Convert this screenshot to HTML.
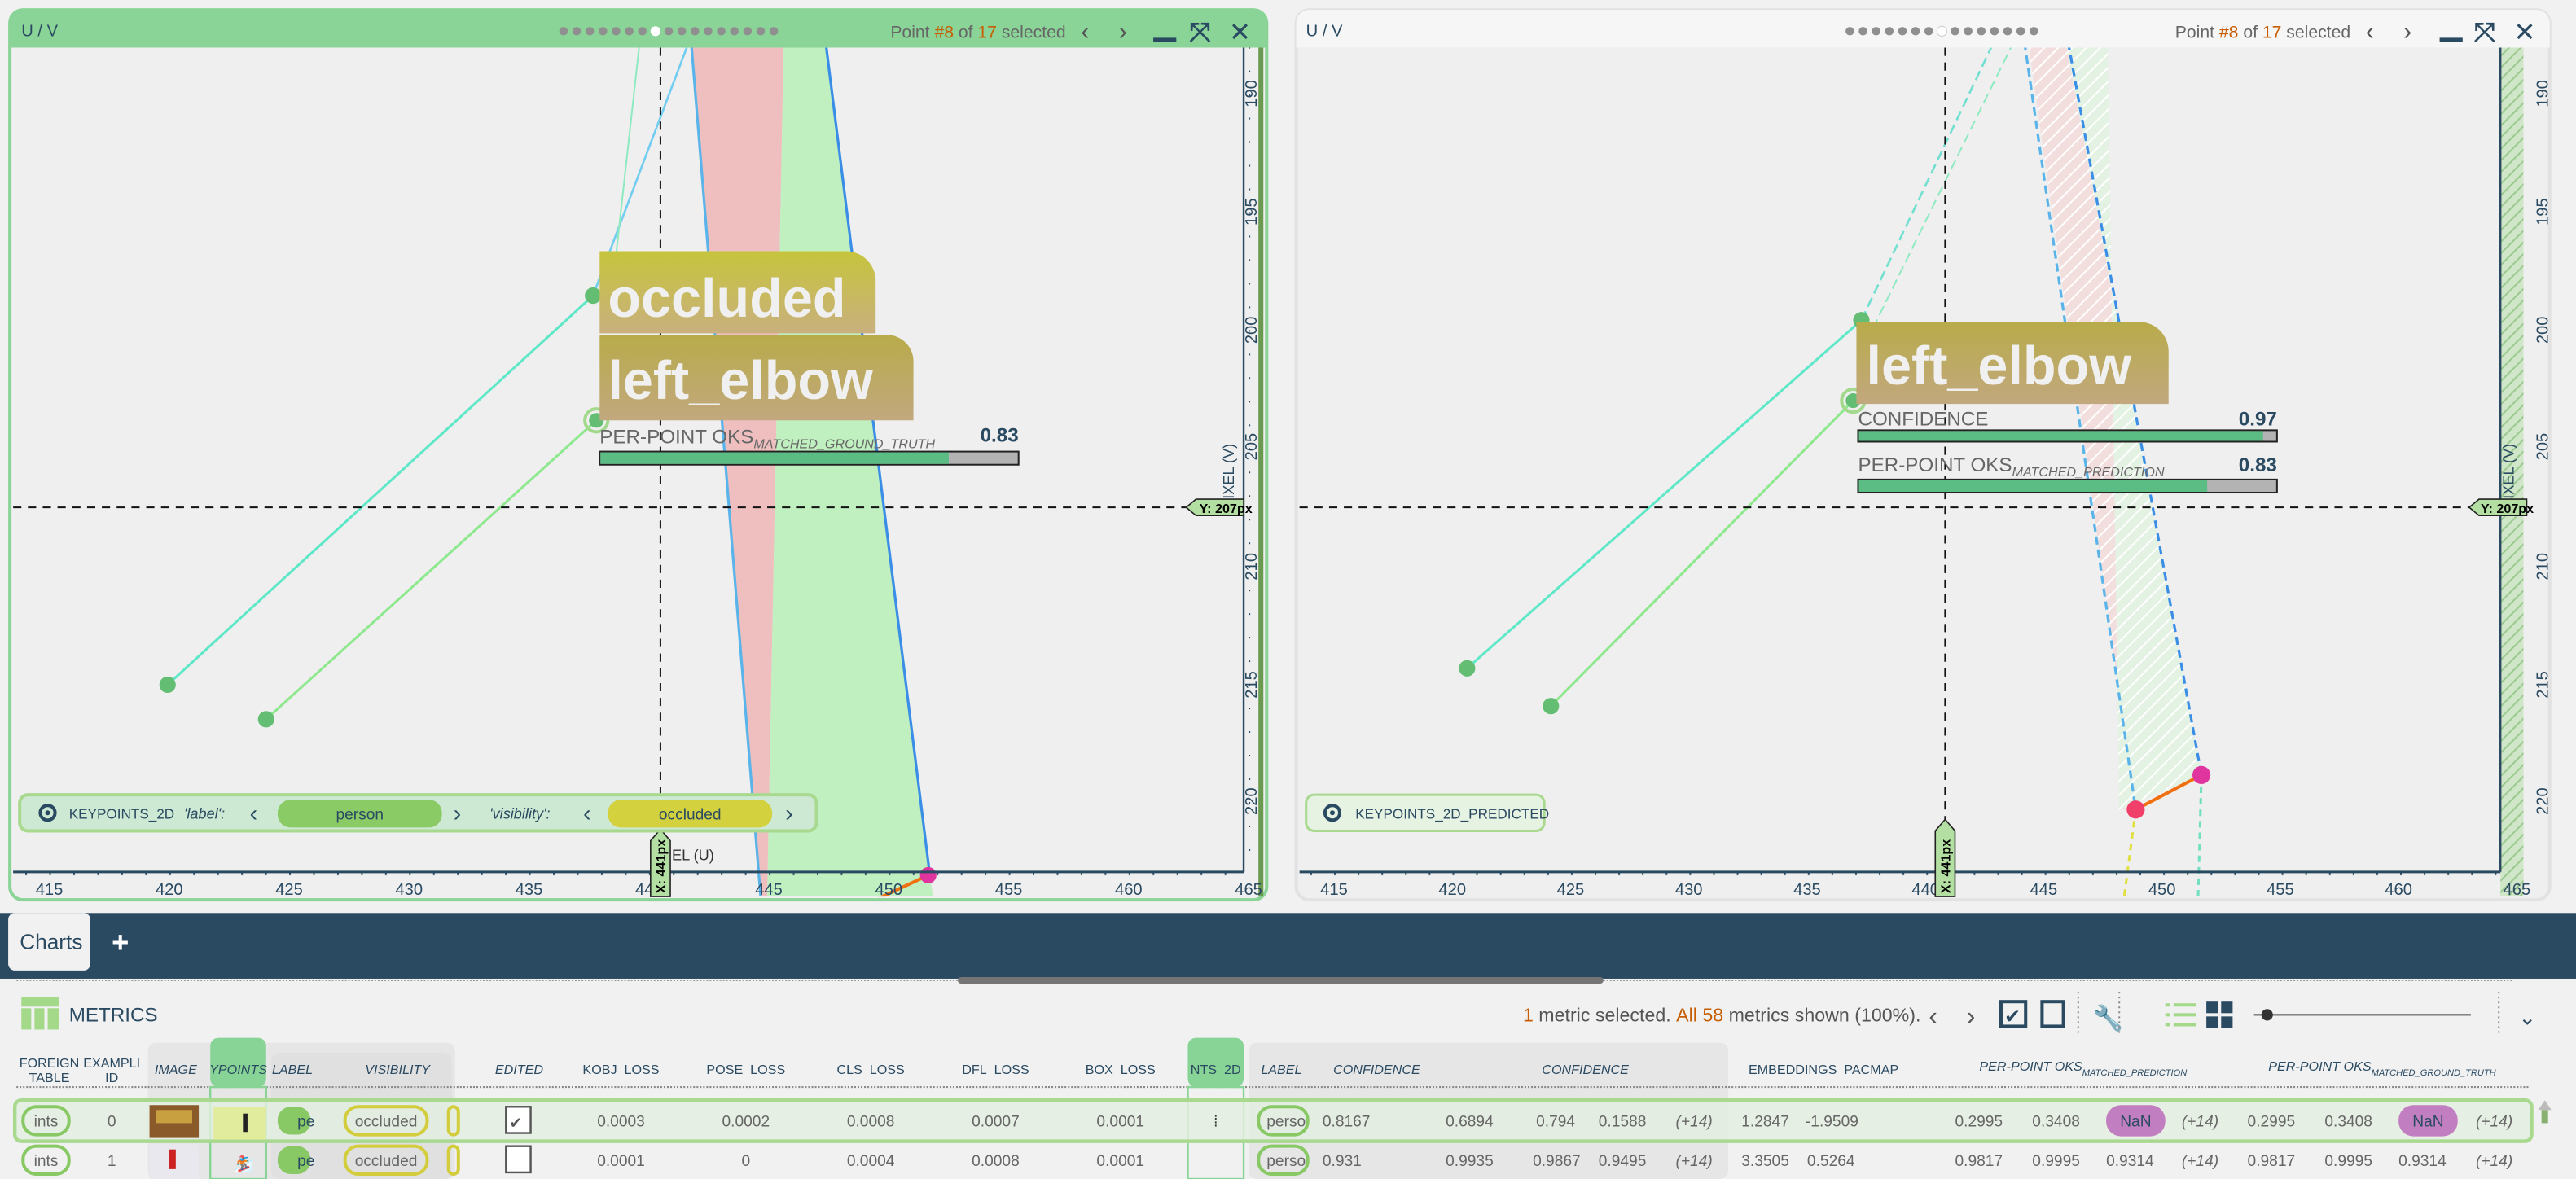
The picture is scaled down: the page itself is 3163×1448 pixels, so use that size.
<!DOCTYPE html>
<html><head><meta charset="utf-8"><style>
html,body{margin:0;padding:0;background:#f1f1f1;width:3163px;height:1448px;overflow:hidden}
svg{display:block}
text{font-family:"Liberation Sans",sans-serif}
</style></head><body>
<svg width="3163" height="1448" viewBox="0 0 1568 718" preserveAspectRatio="none" xmlns="http://www.w3.org/2000/svg">
<defs>
<pattern id="hp" width="6" height="6" patternUnits="userSpaceOnUse" patternTransform="rotate(45)"><rect width="6" height="6" fill="#f3dede"/><line x1="0" y1="0" x2="0" y2="6" stroke="#fff" stroke-width="2"/></pattern>
<pattern id="hg" width="6" height="6" patternUnits="userSpaceOnUse" patternTransform="rotate(45)"><rect width="6" height="6" fill="#e3f2e3"/><line x1="0" y1="0" x2="0" y2="6" stroke="#fff" stroke-width="2"/></pattern>
<pattern id="hs" width="5" height="5" patternUnits="userSpaceOnUse" patternTransform="rotate(45)"><rect width="5" height="5" fill="#cfe6c8"/><line x1="0" y1="0" x2="0" y2="5" stroke="#9bc98f" stroke-width="2"/></pattern>
<pattern id="yt" width="10" height="14.37" patternUnits="userSpaceOnUse" y="14.2"><line x1="0" y1="0.5" x2="3" y2="0.5" stroke="#2a4a62" stroke-width="1"/></pattern>
<pattern id="xt" width="14.6" height="10" patternUnits="userSpaceOnUse" x="15.4"><line x1="0.5" y1="0" x2="0.5" y2="3" stroke="#2a4a62" stroke-width="1"/></pattern>
<pattern id="xt2" width="14.42" height="10" patternUnits="userSpaceOnUse" x="797.6"><line x1="0.5" y1="0" x2="0.5" y2="3" stroke="#2a4a62" stroke-width="1"/></pattern>
<linearGradient id="ol" x1="0" y1="0" x2="0" y2="1"><stop offset="0" stop-color="#c6c43c"/><stop offset="1" stop-color="#c9b07e"/></linearGradient>
<linearGradient id="ol2" x1="0" y1="0" x2="0" y2="1"><stop offset="0" stop-color="#b8ab4a"/><stop offset="1" stop-color="#c2a87e"/></linearGradient>
<clipPath id="cl"><rect x="8" y="29" width="749" height="517"/></clipPath>
<clipPath id="cr"><rect x="791" y="29" width="731" height="517"/></clipPath>
</defs>
<rect width="1568" height="718" fill="#f1f1f1"/>

<!-- LEFT PANEL -->
<rect x="6" y="6" width="765" height="542" rx="8" fill="#efefef" stroke="#8bd498" stroke-width="2"/>
<path d="M6 14 a8 8 0 0 1 8 -8 h749 a8 8 0 0 1 8 8 v15 h-765z" fill="#8bd498"/>
<text x="13" y="22" font-size="10" fill="#2a4a62">U / V</text>
<g fill="#8f8f8f">
<circle cx="343" cy="19" r="2.6"/><circle cx="351" cy="19" r="2.6"/><circle cx="359" cy="19" r="2.6"/><circle cx="367" cy="19" r="2.6"/><circle cx="375" cy="19" r="2.6"/><circle cx="383" cy="19" r="2.6"/><circle cx="391" cy="19" r="2.6"/><circle cx="407" cy="19" r="2.6"/><circle cx="415" cy="19" r="2.6"/><circle cx="423" cy="19" r="2.6"/><circle cx="431" cy="19" r="2.6"/><circle cx="439" cy="19" r="2.6"/><circle cx="447" cy="19" r="2.6"/><circle cx="455" cy="19" r="2.6"/><circle cx="463" cy="19" r="2.6"/><circle cx="471" cy="19" r="2.6"/></g>
<circle cx="399" cy="19" r="3" fill="#fff"/>
<text x="542" y="23" font-size="10.5" fill="#666">Point <tspan fill="#c65d00">#8</tspan> of <tspan fill="#c65d00">17</tspan> selected</text>
<text x="658" y="24" font-size="15" fill="#555">‹</text><text x="681" y="24" font-size="15" fill="#555">›</text>
<rect x="702" y="23" width="14" height="2.5" fill="#2a4a62"/>
<text x="724" y="25" font-size="16" fill="#2a4a62" font-weight="bold">⤧</text>
<text x="748" y="25" font-size="16" fill="#2a4a62">✕</text>

<g clip-path="url(#cl)">
<polygon points="421,29 477,29 467,546 463,546" fill="#efbfbf"/>
<polygon points="477,29 503,29 566,533 568,546 467,546" fill="#c0efc0"/>
<line x1="421" y1="29" x2="463" y2="546" stroke="#5ab4ea" stroke-width="1.6"/>
<line x1="503" y1="29" x2="566" y2="533" stroke="#3a8ee6" stroke-width="1.6"/>
<line x1="102" y1="417" x2="361" y2="180" stroke="#5ee8c8" stroke-width="1.5"/>
<line x1="361" y1="180" x2="418" y2="29" stroke="#72cdf0" stroke-width="1.3"/>
<line x1="375" y1="155" x2="389" y2="29" stroke="#8eeac0" stroke-width="1"/>
<line x1="162" y1="438" x2="363" y2="256" stroke="#8ee88e" stroke-width="1.5"/>
<line x1="535" y1="547" x2="565" y2="533" stroke="#f07010" stroke-width="2"/>
</g>
<circle cx="102" cy="417" r="5" fill="#63be74"/>
<circle cx="162" cy="438" r="5" fill="#63be74"/>
<circle cx="361" cy="180" r="5" fill="#63be74"/>
<circle cx="363" cy="256" r="7" fill="none" stroke="#a3d98c" stroke-width="2"/>
<circle cx="363" cy="256" r="4.5" fill="#63be74"/>
<circle cx="565" cy="533" r="5" fill="#e0359e"/>
<line x1="402" y1="29" x2="402" y2="546" stroke="#111" stroke-width="1" stroke-dasharray="5,4"/>
<line x1="8" y1="309" x2="757" y2="309" stroke="#111" stroke-width="1" stroke-dasharray="5,4"/>
<path d="M365 153 h150 a18 18 0 0 1 18 18 v32 h-168z" fill="url(#ol)"/>
<text x="370" y="193" font-size="33" font-weight="bold" fill="#f0f0f0">occluded</text>
<path d="M365 204 h175 a16 16 0 0 1 16 16 v36 h-191z" fill="url(#ol2)"/>
<text x="370" y="243" font-size="33" font-weight="bold" fill="#f0f0f0">left_elbow</text>
<text x="365" y="270" font-size="12" fill="#666">PER-POINT OKS<tspan font-size="8" font-style="italic" dy="3">MATCHED_GROUND_TRUTH</tspan></text>
<text x="620" y="269" font-size="12" font-weight="bold" fill="#2a4a62" text-anchor="end">0.83</text>
<rect x="365" y="275" width="255" height="8" fill="#b3b3b3" stroke="#222" stroke-width="1"/>
<rect x="365.5" y="275.5" width="212" height="7" fill="#5cbd84"/>
<!-- y axis -->
<line x1="757" y1="29" x2="757" y2="531" stroke="#2a4a62" stroke-width="1.2"/>
<rect x="757" y="29" width="4" height="502" fill="url(#yt)"/>
<rect x="766" y="29" width="3" height="517" fill="#6a9a50"/>
<g font-size="10" fill="#2a4a62">
<text transform="translate(765,57) rotate(-90)" text-anchor="middle">190</text>
<text transform="translate(765,129) rotate(-90)" text-anchor="middle">195</text>
<text transform="translate(765,201) rotate(-90)" text-anchor="middle">200</text>
<text transform="translate(765,272) rotate(-90)" text-anchor="middle">205</text>
<text transform="translate(765,345) rotate(-90)" text-anchor="middle">210</text>
<text transform="translate(765,417) rotate(-90)" text-anchor="middle">215</text>
<text transform="translate(765,488) rotate(-90)" text-anchor="middle">220</text>
<text transform="translate(751,290) rotate(-90)" text-anchor="middle" font-size="9">PIXEL (V)</text>
</g>
<polygon points="722,309 728,304 757,304 757,314 728,314" fill="#b3e0a2" stroke="#222" stroke-width="0.8"/>
<text x="730" y="312.5" font-size="8" font-weight="bold">Y: 207px</text>
<!-- x axis -->
<line x1="8" y1="531" x2="757" y2="531" stroke="#2a4a62" stroke-width="1.5"/>
<rect x="8" y="531" width="749" height="4" fill="url(#xt)"/>
<g font-size="10" fill="#2a4a62" text-anchor="middle">
<text x="30" y="545">415</text><text x="103" y="545">420</text><text x="176" y="545">425</text><text x="249" y="545">430</text><text x="322" y="545">435</text><text x="395" y="545">440</text><text x="468" y="545">445</text><text x="541" y="545">450</text><text x="614" y="545">455</text><text x="687" y="545">460</text><text x="760" y="545">465</text>
</g>
<text x="409" y="524" font-size="9" fill="#333">EL (U)</text>
<polygon points="396,512 402,505 408,512 408,546 396,546" fill="#b3e0a2" stroke="#222" stroke-width="0.8"/>
<text transform="translate(405,544) rotate(-90)" font-size="8" font-weight="bold">X: 441px</text>
<!-- legend -->
<rect x="12" y="484" width="485" height="22" rx="5" fill="#cde9d3" stroke="#a9d98f" stroke-width="2"/>
<circle cx="29" cy="495" r="4.5" fill="none" stroke="#2a4a62" stroke-width="2"/><circle cx="29" cy="495" r="1.5" fill="#2a4a62"/>
<text x="42" y="498.5" font-size="8.5" fill="#2a4a62">KEYPOINTS_2D</text>
<text x="112" y="498.5" font-size="9" font-style="italic" fill="#2a4a62">'label':</text>
<text x="152" y="500" font-size="14" fill="#2a4a62">‹</text>
<rect x="169" y="487" width="100" height="17" rx="8" fill="#8acb65"/>
<text x="219" y="499" font-size="9.5" fill="#2a4a62" text-anchor="middle">person</text>
<text x="276" y="500" font-size="14" fill="#2a4a62">›</text>
<text x="298" y="498.5" font-size="9" font-style="italic" fill="#2a4a62">'visibility':</text>
<text x="355" y="500" font-size="14" fill="#2a4a62">‹</text>
<rect x="370" y="487" width="100" height="17" rx="8" fill="#d3d13e"/>
<text x="420" y="499" font-size="9.5" fill="#2a4a62" text-anchor="middle">occluded</text>
<text x="478" y="500" font-size="14" fill="#2a4a62">›</text>

<!-- RIGHT PANEL -->
<rect x="789" y="6" width="763" height="542" rx="8" fill="#efefef" stroke="#e2e2e2" stroke-width="2"/>
<path d="M789 14 a8 8 0 0 1 8 -8 h747 a8 8 0 0 1 8 8 v15 h-763z" fill="#f6f6f6"/>
<text x="795" y="22" font-size="10" fill="#2a4a62">U / V</text>
<g fill="#8f8f8f">
<circle cx="1126" cy="19" r="2.6"/><circle cx="1134" cy="19" r="2.6"/><circle cx="1142" cy="19" r="2.6"/><circle cx="1150" cy="19" r="2.6"/><circle cx="1158" cy="19" r="2.6"/><circle cx="1166" cy="19" r="2.6"/><circle cx="1174" cy="19" r="2.6"/><circle cx="1190" cy="19" r="2.6"/><circle cx="1198" cy="19" r="2.6"/><circle cx="1206" cy="19" r="2.6"/><circle cx="1214" cy="19" r="2.6"/><circle cx="1222" cy="19" r="2.6"/><circle cx="1230" cy="19" r="2.6"/><circle cx="1238" cy="19" r="2.6"/></g>
<circle cx="1182" cy="19" r="3" fill="#fff" stroke="#ccc" stroke-width="0.5"/>
<text x="1324" y="23" font-size="10.5" fill="#666">Point <tspan fill="#c65d00">#8</tspan> of <tspan fill="#c65d00">17</tspan> selected</text>
<text x="1440" y="24" font-size="15" fill="#555">‹</text><text x="1463" y="24" font-size="15" fill="#555">›</text>
<rect x="1485" y="23" width="14" height="2.5" fill="#2a4a62"/>
<text x="1506" y="25" font-size="16" fill="#2a4a62" font-weight="bold">⤧</text>
<text x="1530" y="25" font-size="16" fill="#2a4a62">✕</text>
<g clip-path="url(#cr)">
<polygon points="1235,29 1283,29 1290,493 1300,493" fill="url(#hp)"/>
<polygon points="1283,29 1258,29 1340,472 1290,493" fill="url(#hg)"/>
<line x1="1230" y1="10" x2="1300" y2="493" stroke="#5ab4ea" stroke-width="1.6" stroke-dasharray="5,3"/>
<line x1="1256" y1="10" x2="1340" y2="472" stroke="#3a8ee6" stroke-width="1.6" stroke-dasharray="5,3"/>
<line x1="893" y1="407" x2="1133" y2="195" stroke="#5ee8c8" stroke-width="1.5"/>
<line x1="1133" y1="195" x2="1212" y2="29" stroke="#72e0d0" stroke-width="1.3" stroke-dasharray="6,3"/>
<line x1="1140" y1="200" x2="1224" y2="29" stroke="#8eeac0" stroke-width="1" stroke-dasharray="6,3"/>
<line x1="944" y1="430" x2="1128" y2="244" stroke="#8ee88e" stroke-width="1.5"/>
<line x1="1300" y1="493" x2="1340" y2="472" stroke="#f07010" stroke-width="2"/>
<line x1="1300" y1="493" x2="1293" y2="546" stroke="#e0e040" stroke-width="1.5" stroke-dasharray="4,3"/>
<line x1="1340" y1="472" x2="1338" y2="546" stroke="#70e0c0" stroke-width="1.5" stroke-dasharray="4,3"/>
</g>
<circle cx="893" cy="407" r="5" fill="#63be74"/>
<circle cx="944" cy="430" r="5" fill="#63be74"/>
<circle cx="1133" cy="195" r="5" fill="#63be74"/>
<circle cx="1128" cy="244" r="7" fill="none" stroke="#a3d98c" stroke-width="2"/>
<circle cx="1128" cy="244" r="4.5" fill="#63be74"/>
<circle cx="1300" cy="493" r="5.5" fill="#f0406a"/>
<circle cx="1340" cy="472" r="5.5" fill="#e0359e"/>
<line x1="1184" y1="29" x2="1184" y2="546" stroke="#111" stroke-width="1" stroke-dasharray="5,4"/>
<line x1="791" y1="309" x2="1522" y2="309" stroke="#111" stroke-width="1" stroke-dasharray="5,4"/>
<path d="M1130 196 h172 a18 18 0 0 1 18 18 v32 h-190z" fill="url(#ol2)"/>
<text x="1136" y="234" font-size="33" font-weight="bold" fill="#f0f0f0">left_elbow</text>
<text x="1131" y="259" font-size="12" fill="#666">CONFIDENCE</text>
<text x="1386" y="259" font-size="12" font-weight="bold" fill="#2a4a62" text-anchor="end">0.97</text>
<rect x="1131" y="262" width="255" height="7" fill="#b3b3b3" stroke="#222" stroke-width="1"/>
<rect x="1131.5" y="262.5" width="246" height="6" fill="#5cbd84"/>
<text x="1131" y="287" font-size="12" fill="#666">PER-POINT OKS<tspan font-size="8" font-style="italic" dy="3">MATCHED_PREDICTION</tspan></text>
<text x="1386" y="287" font-size="12" font-weight="bold" fill="#2a4a62" text-anchor="end">0.83</text>
<rect x="1131" y="292" width="255" height="8" fill="#b3b3b3" stroke="#222" stroke-width="1"/>
<rect x="1131.5" y="292.5" width="212" height="7" fill="#5cbd84"/>
<rect x="1522" y="29" width="14" height="517" fill="url(#hs)"/>
<line x1="1522" y1="29" x2="1522" y2="531" stroke="#2a4a62" stroke-width="1.2"/>
<g font-size="10" fill="#2a4a62">
<text transform="translate(1551,57) rotate(-90)" text-anchor="middle">190</text>
<text transform="translate(1551,129) rotate(-90)" text-anchor="middle">195</text>
<text transform="translate(1551,201) rotate(-90)" text-anchor="middle">200</text>
<text transform="translate(1551,272) rotate(-90)" text-anchor="middle">205</text>
<text transform="translate(1551,345) rotate(-90)" text-anchor="middle">210</text>
<text transform="translate(1551,417) rotate(-90)" text-anchor="middle">215</text>
<text transform="translate(1551,488) rotate(-90)" text-anchor="middle">220</text>
<text transform="translate(1530,290) rotate(-90)" text-anchor="middle" font-size="9">PIXEL (V)</text>
</g>
<polygon points="1503,309 1509,304 1538,304 1538,314 1509,314" fill="#b3e0a2" stroke="#222" stroke-width="0.8"/>
<text x="1510" y="312.5" font-size="8" font-weight="bold">Y: 207px</text>
<line x1="791" y1="531" x2="1522" y2="531" stroke="#2a4a62" stroke-width="1.5"/>
<rect x="791" y="531" width="731" height="4" fill="url(#xt2)"/>
<g font-size="10" fill="#2a4a62" text-anchor="middle">
<text x="812" y="545">415</text><text x="884" y="545">420</text><text x="956" y="545">425</text><text x="1028" y="545">430</text><text x="1100" y="545">435</text><text x="1172" y="545">440</text><text x="1244" y="545">445</text><text x="1316" y="545">450</text><text x="1388" y="545">455</text><text x="1460" y="545">460</text><text x="1532" y="545">465</text>
</g>
<polygon points="1178,506 1184,499 1190,506 1190,546 1178,546" fill="#b3e0a2" stroke="#222" stroke-width="0.8"/>
<text transform="translate(1187,544) rotate(-90)" font-size="8" font-weight="bold">X: 441px</text>
<rect x="795" y="484" width="145" height="22" rx="5" fill="#e6f2e2" stroke="#a9d98f" stroke-width="1.5"/>
<circle cx="811" cy="495" r="4.5" fill="none" stroke="#2a4a62" stroke-width="2"/><circle cx="811" cy="495" r="1.5" fill="#2a4a62"/>
<text x="825" y="498.5" font-size="8.5" fill="#2a4a62">KEYPOINTS_2D_PREDICTED</text>

<!-- TAB BAR -->
<rect x="0" y="556" width="1568" height="40" fill="#2a4a62"/>
<rect x="5" y="556" width="50" height="35" rx="4" fill="#f1f1f1"/>
<text x="12" y="578" font-size="13" fill="#2a4a62">Charts</text>
<text x="68" y="580" font-size="18" font-weight="bold" fill="#fff">+</text>
<line x1="10" y1="597" x2="1530" y2="597" stroke="#999" stroke-width="1" stroke-dasharray="1,1"/>
<rect x="583" y="595" width="393" height="4" rx="2" fill="#757575"/>

<!-- METRICS -->
<rect x="13" y="607" width="23" height="6" fill="#a5d98a"/><rect x="13" y="614" width="6" height="13" fill="#a5d98a"/><rect x="21" y="614" width="6" height="13" fill="#a5d98a"/><rect x="29" y="614" width="7" height="13" fill="#a5d98a"/>
<text x="42" y="622" font-size="12" fill="#2a4a62">METRICS</text>
<text x="927" y="622" font-size="11.5" fill="#555"><tspan fill="#c65d00">1</tspan> metric selected. <tspan fill="#c65d00">All 58</tspan> metrics shown (100%).</text>
<text x="1174" y="624" font-size="16" fill="#555">‹</text><text x="1197" y="624" font-size="16" fill="#555">›</text>
<rect x="1218" y="610" width="15" height="15" fill="none" stroke="#2a4a62" stroke-width="2"/>
<text x="1220" y="623" font-size="12" fill="#2a4a62">✔</text>
<rect x="1243" y="610" width="13" height="15" fill="none" stroke="#2a4a62" stroke-width="2"/>
<line x1="1265" y1="604" x2="1265" y2="630" stroke="#888" stroke-dasharray="1,2"/>
<text x="1274" y="625" font-size="15" fill="#2a4a62">🔧</text>
<line x1="1290" y1="604" x2="1290" y2="630" stroke="#888" stroke-dasharray="1,2"/>
<g fill="#a5d98a"><rect x="1318" y="611" width="3" height="2"/><rect x="1323" y="611" width="14" height="2"/><rect x="1318" y="617" width="3" height="2"/><rect x="1323" y="617" width="14" height="2"/><rect x="1318" y="623" width="3" height="2"/><rect x="1323" y="623" width="14" height="2"/></g>
<g fill="#2a4a62"><rect x="1343" y="610" width="7" height="7"/><rect x="1352" y="610" width="7" height="7"/><rect x="1343" y="619" width="7" height="7"/><rect x="1352" y="619" width="7" height="7"/></g>
<line x1="1372" y1="618" x2="1504" y2="618" stroke="#777" stroke-width="1.2"/>
<circle cx="1380" cy="618" r="3.5" fill="#333"/>
<line x1="1521" y1="604" x2="1521" y2="630" stroke="#888" stroke-dasharray="1,2"/>
<text x="1533" y="624" font-size="13" fill="#2a4a62">⌄</text>

<!-- table header backgrounds -->
<rect x="90" y="635" width="187" height="83" rx="5" fill="#e6e6e6"/>
<rect x="165" y="641" width="110" height="77" rx="5" fill="#e0e0e0"/>
<rect x="760" y="635" width="292" height="83" rx="5" fill="#e6e6e6"/>
<rect x="128" y="632" width="34" height="30" rx="5" fill="#88d496"/>
<rect x="723" y="632" width="34" height="30" rx="5" fill="#88d496"/>
<line x1="10" y1="662" x2="1540" y2="662" stroke="#888" stroke-dasharray="1,1"/>
<g font-size="8" fill="#2a4a62" text-anchor="middle">
<text x="30" y="650">FOREIGN</text><text x="30" y="659">TABLE</text>
<text x="68" y="650">EXAMPLI</text><text x="68" y="659">ID</text>
<text x="107" y="654" font-style="italic">IMAGE</text>
<text x="145" y="654" font-style="italic">YPOINTS</text>
<text x="178" y="654" font-style="italic">LABEL</text>
<text x="242" y="654" font-style="italic">VISIBILITY</text>
<text x="316" y="654" font-style="italic">EDITED</text>
<text x="378" y="654">KOBJ_LOSS</text>
<text x="454" y="654">POSE_LOSS</text>
<text x="530" y="654">CLS_LOSS</text>
<text x="606" y="654">DFL_LOSS</text>
<text x="682" y="654">BOX_LOSS</text>
<text x="740" y="654">NTS_2D</text>
<text x="780" y="654" font-style="italic">LABEL</text>
<text x="838" y="654" font-style="italic">CONFIDENCE</text>
<text x="965" y="654" font-style="italic">CONFIDENCE</text>
<text x="1110" y="654">EMBEDDINGS_PACMAP</text>
<text x="1268" y="652" font-style="italic">PER-POINT OKS<tspan font-size="5.5" dy="3">MATCHED_PREDICTION</tspan></text>
<text x="1450" y="652" font-style="italic">PER-POINT OKS<tspan font-size="5.5" dy="3">MATCHED_GROUND_TRUTH</tspan></text>
</g>
<rect x="128" y="662" width="34" height="56" fill="none" stroke="#88d496" stroke-width="1.2"/>
<rect x="723" y="662" width="34" height="56" fill="none" stroke="#88d496" stroke-width="1.2"/>
<!-- row 1 -->
<rect x="9" y="670" width="1532" height="25" rx="4" fill="#e4efe0" fill-opacity="0.8" stroke="#a9d98f" stroke-width="2.2"/>
<rect x="130" y="674" width="32" height="20" fill="#e1ec9d"/>
<rect x="91" y="673" width="30" height="20" fill="#8a5a2a"/><rect x="95" y="676" width="22" height="8" fill="#c8a040"/>
<g font-size="9.5" fill="#666">
<rect x="14" y="674" width="28" height="17" rx="8" fill="none" stroke="#88c965" stroke-width="2"/><text x="28" y="686" text-anchor="middle">ints</text>
<text x="68" y="686" text-anchor="middle">0</text>
<text x="148" y="687" fill="#222">▍</text>
<rect x="169" y="674" width="20" height="17" rx="8" fill="#88c965"/><text x="181" y="686" fill="#2a4a62">pe</text>
<rect x="210" y="674" width="50" height="17" rx="8" fill="none" stroke="#d3cd3e" stroke-width="2"/><text x="235" y="686" text-anchor="middle">occluded</text>
<rect x="273" y="674" width="6" height="17" rx="3" fill="none" stroke="#d3cd3e" stroke-width="2"/>
<rect x="308" y="674" width="15" height="16" fill="#fff" stroke="#555" stroke-width="1.2"/><text x="310" y="687" fill="#555">✔</text>
<text x="378" y="686" text-anchor="middle">0.0003</text><text x="454" y="686" text-anchor="middle">0.0002</text><text x="530" y="686" text-anchor="middle">0.0008</text><text x="606" y="686" text-anchor="middle">0.0007</text><text x="682" y="686" text-anchor="middle">0.0001</text>
<text x="740" y="686" text-anchor="middle" fill="#333">⁞</text>
<rect x="766" y="674" width="30" height="17" rx="8" fill="none" stroke="#88c965" stroke-width="2"/><text x="771" y="686">perso</text>
<text x="805" y="686">0.8167</text><text x="880" y="686">0.6894</text><text x="935" y="686">0.794</text><text x="973" y="686">0.1588</text><text x="1020" y="686" font-style="italic">(+14)</text>
<text x="1060" y="686">1.2847</text><text x="1099" y="686">-1.9509</text>
<text x="1190" y="686">0.2995</text><text x="1237" y="686">0.3408</text>
<rect x="1282" y="673" width="36" height="19" rx="9" fill="#c17ec0"/><text x="1300" y="686" text-anchor="middle" fill="#2a4a62">NaN</text>
<text x="1328" y="686" font-style="italic">(+14)</text>
<text x="1368" y="686">0.2995</text><text x="1415" y="686">0.3408</text>
<rect x="1460" y="673" width="36" height="19" rx="9" fill="#c17ec0"/><text x="1478" y="686" text-anchor="middle" fill="#2a4a62">NaN</text>
<text x="1507" y="686" font-style="italic">(+14)</text>
</g>
<!-- row 2 -->
<rect x="91" y="697" width="30" height="21" fill="#e8e8ee"/><rect x="103" y="700" width="4" height="12" fill="#c22"/>
<g font-size="9.5" fill="#666">
<rect x="14" y="698" width="28" height="17" rx="8" fill="none" stroke="#88c965" stroke-width="2"/><text x="28" y="710" text-anchor="middle">ints</text>
<text x="68" y="710" text-anchor="middle">1</text>
<text x="142" y="712" fill="#222">🏂</text>
<rect x="169" y="698" width="20" height="17" rx="8" fill="#88c965"/><text x="181" y="710" fill="#2a4a62">pe</text>
<rect x="210" y="698" width="50" height="17" rx="8" fill="none" stroke="#d3cd3e" stroke-width="2"/><text x="235" y="710" text-anchor="middle">occluded</text>
<rect x="273" y="698" width="6" height="17" rx="3" fill="none" stroke="#d3cd3e" stroke-width="2"/>
<rect x="308" y="698" width="15" height="16" fill="#fff" stroke="#555" stroke-width="1.2"/>
<text x="378" y="710" text-anchor="middle">0.0001</text><text x="454" y="710" text-anchor="middle">0</text><text x="530" y="710" text-anchor="middle">0.0004</text><text x="606" y="710" text-anchor="middle">0.0008</text><text x="682" y="710" text-anchor="middle">0.0001</text>
<rect x="766" y="698" width="30" height="17" rx="8" fill="none" stroke="#88c965" stroke-width="2"/><text x="771" y="710">perso</text>
<text x="805" y="710">0.931</text><text x="880" y="710">0.9935</text><text x="933" y="710">0.9867</text><text x="973" y="710">0.9495</text><text x="1020" y="710" font-style="italic">(+14)</text>
<text x="1060" y="710">3.3505</text><text x="1100" y="710">0.5264</text>
<text x="1190" y="710">0.9817</text><text x="1237" y="710">0.9995</text><text x="1282" y="710">0.9314</text><text x="1328" y="710" font-style="italic">(+14)</text>
<text x="1368" y="710">0.9817</text><text x="1415" y="710">0.9995</text><text x="1460" y="710">0.9314</text><text x="1507" y="710" font-style="italic">(+14)</text>
</g>
<polygon points="1545,676 1549,670 1553,676" fill="#bbb"/><rect x="1547" y="676" width="4" height="8" fill="#88b070"/>
</svg>
</body></html>
